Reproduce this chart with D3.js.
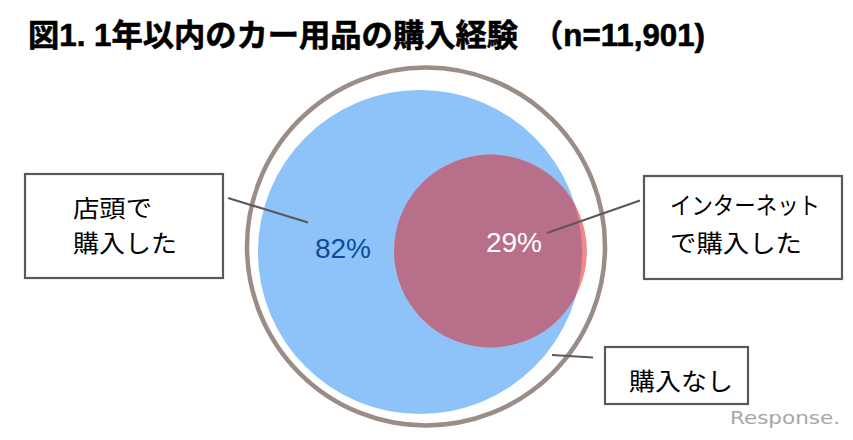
<!DOCTYPE html>
<html><head><meta charset="utf-8">
<script src="https://cdn.jsdelivr.net/npm/d3@7"></script>
<style>
html,body{margin:0;padding:0;background:#fff;}
svg{display:block;}
</style></head>
<body>
<svg id="chart" width="853" height="440"></svg>
<script>
// ---- data ----
const titleMain = "図1. 1年以内のカー用品の購入経験";
const titleN = "（n=11,901)";
const setNames = ["店頭で購入した", "インターネットで購入した"];
const setValues = [82, 29];           // % of respondents
const totalValue = 100;
const noneName = "購入なし";
const labelLines = [["店頭で", "購入した"], ["インターネット", "で購入した"], ["購入なし"]];

// ---- layout ----
const svg = d3.select("#chart");
const r = d3.scaleSqrt().domain([0, 100]).range([0, 179]);
const outerC = [426, 246.5];
const centers = [[420, 252], [490.5, 251]];
const colors = { blue: "#8ec3fa", red: "#f08a8a", overlap: "#b86f8a", ring: "#9a8d87" };
const jpFont = "'Noto Sans CJK JP', 'Noto Sans', sans-serif";

// title
svg.append("text")
  .attr("x", 28).attr("y", 46)
  .attr("font-family", "'Liberation Sans', 'Noto Sans CJK JP', sans-serif")
  .attr("font-weight", "bold").attr("font-size", 31).attr("fill", "#000")
  .attr("stroke", "#000").attr("stroke-width", 0.6)
  .attr("textLength", 490).attr("lengthAdjust", "spacingAndGlyphs")
  .text(titleMain);
svg.append("text")
  .attr("x", 532).attr("y", 46)
  .attr("font-family", "'Liberation Sans', 'Noto Sans CJK JP', sans-serif")
  .attr("font-weight", "bold").attr("font-size", 31).attr("fill", "#000")
  .attr("stroke", "#000").attr("stroke-width", 0.6)
  .attr("textLength", 173).attr("lengthAdjust", "spacingAndGlyphs")
  .text(titleN);

// outer ring = total
svg.append("circle")
  .attr("cx", outerC[0]).attr("cy", outerC[1]).attr("r", r(totalValue))
  .attr("fill", "none").attr("stroke", colors.ring).attr("stroke-width", 4.5);

// clip path for overlap
svg.append("defs").append("clipPath").attr("id", "clipBlue")
  .append("circle")
  .attr("cx", centers[0][0]).attr("cy", centers[0][1]).attr("r", r(setValues[0]));

// blue set
svg.append("circle")
  .attr("cx", centers[0][0]).attr("cy", centers[0][1]).attr("r", r(setValues[0]))
  .attr("fill", colors.blue);
// red set
svg.append("circle")
  .attr("cx", centers[1][0]).attr("cy", centers[1][1]).attr("r", r(setValues[1]))
  .attr("fill", colors.red);
// overlap
svg.append("circle")
  .attr("clip-path", "url(#clipBlue)")
  .attr("cx", centers[1][0]).attr("cy", centers[1][1]).attr("r", r(setValues[1]))
  .attr("fill", colors.overlap);

// value labels
const fmt = d => d + "%";
svg.append("text")
  .attr("x", 343).attr("y", 258).attr("text-anchor", "middle")
  .attr("font-family", "'Liberation Sans', Arial, sans-serif").attr("font-size", 28)
  .attr("fill", "#0d4c98").text(fmt(setValues[0]));
svg.append("text")
  .attr("x", 514).attr("y", 252).attr("text-anchor", "middle")
  .attr("font-family", "'Liberation Sans', Arial, sans-serif").attr("font-size", 28)
  .attr("fill", "#ffffff").text(fmt(setValues[1]));

// leader lines
const leaders = [
  [[228, 198], [308, 222.5]],
  [[547, 233], [640, 200.5]],
  [[552, 355], [593, 357.5]]
];
svg.selectAll("line.leader").data(leaders).enter().append("line")
  .attr("class", "leader")
  .attr("x1", d => d[0][0]).attr("y1", d => d[0][1])
  .attr("x2", d => d[1][0]).attr("y2", d => d[1][1])
  .attr("stroke", "#595959").attr("stroke-width", 2.2);

// label boxes
const boxes = [
  { x: 25, y: 174, w: 198, h: 104, tx: 73, ty: [217, 252], lens: [79, 104] },
  { x: 644, y: 176, w: 198, h: 103, tx: 670, ty: [214, 252], lens: [150, 132] },
  { x: 605, y: 347, w: 143, h: 57, tx: 629, ty: [390], lens: [104] }
];
boxes.forEach((b, i) => {
  svg.append("rect")
    .attr("x", b.x).attr("y", b.y).attr("width", b.w).attr("height", b.h)
    .attr("fill", "#fff").attr("stroke", "#595959").attr("stroke-width", 2.2);
  labelLines[i].forEach((line, j) => {
    svg.append("text")
      .attr("x", b.tx).attr("y", b.ty[j])
      .attr("font-family", jpFont).attr("font-size", 24).attr("fill", "#000")
      .attr("textLength", b.lens[j]).attr("lengthAdjust", "spacingAndGlyphs")
      .text(line);
  });
});

// watermark
svg.append("text")
  .attr("x", 730).attr("y", 424)
  .attr("font-family", "'DejaVu Sans', sans-serif").attr("font-size", 17)
  .attr("fill", "#a6a6a6").attr("textLength", 110).attr("lengthAdjust", "spacingAndGlyphs")
  .text("Response.");
</script>
</body></html>
